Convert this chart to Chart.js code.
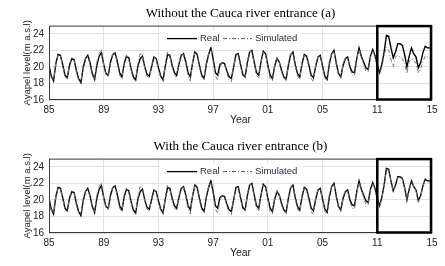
<!DOCTYPE html>
<html>
<head>
<meta charset="utf-8">
<script src="https://cdn.jsdelivr.net/npm/chart.js@4.4.1/dist/chart.umd.min.js"></script>
<style>
  html, body { margin: 0; padding: 0; background: #fff; }
  canvas { display: block; }
</style>
</head>
<body>
<canvas id="c1" width="445" height="133"></canvas>
<canvas id="c2" width="445" height="133"></canvas>
<script>
// ---------------- DATA ----------------
const tickLabels = ['85', '89', '93', '97', '01', '05', '11', '15'];
const yTickValues = [16, 18, 20, 22, 24];
const samplesPerUnit = 6; // readings per axis unit (one seasonal cycle)
const highlightFrom = '11', highlightTo = '15';

const realLevels = [
  20.2, 18.9, 18.3, 20.4, 21.5, 21.4,
  20.3, 19.0, 18.7, 20.2, 21.0, 20.9,
  19.6, 18.6, 18.1, 19.9, 21.0, 21.4,
  20.5, 19.2, 18.5, 20.2, 21.3, 21.7,
  20.3, 19.2, 19.0, 20.6, 21.5, 21.7,
  20.6, 19.3, 18.8, 20.4, 21.3, 21.1,
  19.8, 18.8, 18.4, 20.1, 21.0, 21.3,
  20.0, 19.1, 18.9, 20.0, 21.2, 21.0,
  19.9, 18.9, 18.4, 20.1, 21.5, 21.4,
  20.2, 19.3, 19.0, 20.3, 21.4, 21.6,
  20.6, 19.3, 18.8, 20.5, 21.8, 21.5,
  20.2, 19.0, 18.6, 20.3, 21.5, 22.3,
  21.0, 19.3, 19.0, 20.3, 20.5, 20.4,
  19.5, 18.8, 18.6, 20.0, 21.5, 21.6,
  20.3, 19.1, 18.8, 20.5, 21.8, 22.0,
  20.6, 19.3, 19.0, 20.6, 21.9, 21.6,
  20.2, 19.0, 18.6, 20.1, 21.0, 20.6,
  19.6, 18.8, 18.5, 20.2, 21.5, 21.8,
  20.3, 19.2, 18.8, 20.4, 21.5, 21.3,
  20.2, 19.0, 18.7, 20.1, 21.2, 21.4,
  20.1, 18.9, 18.5, 20.4, 21.6, 22.0,
  20.5, 19.2, 18.8, 20.2, 21.0, 21.2,
  20.0, 19.4, 19.3, 21.0, 22.3, 21.3,
  20.6, 19.9, 19.7, 21.3, 22.1, 21.4,
  20.2, 19.3, 20.3, 21.8, 23.8, 23.7,
  22.3, 21.1, 21.8, 22.8, 22.8, 22.6,
  21.5, 20.0, 21.3, 22.3, 21.6, 21.2,
  19.9, 20.5, 21.7, 22.5, 22.3, 22.3,
  22.1
];

const simWithoutCauca = [
  20.0, 18.7, 18.4, 20.6, 21.4, 21.3,
  20.1, 18.8, 18.6, 20.4, 21.1, 20.8,
  19.4, 18.4, 18.2, 20.1, 21.1, 21.3,
  20.3, 19.0, 18.6, 20.6, 21.6, 22.1,
  20.1, 19.0, 18.8, 20.8, 21.6, 21.6,
  20.3, 19.0, 18.6, 20.6, 21.4, 21.0,
  19.6, 18.6, 18.3, 20.4, 21.7, 21.2,
  19.8, 18.9, 18.6, 20.2, 21.3, 20.9,
  19.7, 18.7, 18.3, 20.3, 21.8, 21.3,
  20.0, 19.0, 18.8, 20.5, 21.5, 21.5,
  20.4, 18.9, 18.3, 20.6, 21.7, 21.4,
  20.0, 18.8, 18.5, 20.5, 21.6, 22.1,
  20.7, 18.9, 18.4, 20.0, 20.6, 20.3,
  19.3, 18.4, 18.2, 20.1, 21.4, 21.5,
  20.1, 18.9, 18.7, 20.7, 21.9, 21.8,
  20.4, 19.0, 18.7, 20.7, 21.8, 21.5,
  20.0, 18.6, 18.3, 20.3, 21.2, 20.5,
  19.4, 18.6, 18.4, 20.4, 21.6, 21.7,
  20.1, 18.9, 18.5, 20.6, 21.4, 21.2,
  20.0, 18.6, 18.2, 20.3, 21.3, 21.3,
  19.9, 18.6, 18.4, 20.6, 21.7, 21.9,
  20.3, 18.9, 18.6, 20.4, 21.1, 21.1,
  19.8, 19.0, 18.9, 21.0, 22.1, 21.2,
  20.3, 19.5, 19.4, 21.2, 21.9, 21.3,
  20.0, 19.2, 20.0, 21.4, 22.4, 22.0,
  20.9, 20.0, 21.2, 21.4, 21.2, 21.0,
  20.3, 19.2, 20.6, 21.0, 20.7, 20.5,
  19.3, 19.8, 20.6, 21.3, 21.2, 21.0,
  20.8
];

// with the Cauca entrance: identical to (a) before '11', these values afterwards
const simWithCaucaTail = [
  20.1, 19.1, 20.2, 21.7, 23.7, 23.6,
  22.2, 21.0, 21.7, 22.7, 22.9, 22.5,
  21.4, 19.9, 21.2, 22.2, 21.7, 21.1,
  19.8, 20.4, 21.6, 22.4, 22.2, 22.2,
  22.0
];

const titles = ['Without the Cauca river entrance (a)', 'With the Cauca river entrance (b)'];
const seriesNames = ['Real', 'Simulated'];
const yAxisTitle = 'Ayapel level(m a.s.l)';
const xAxisTitle = 'Year';

// ---------------- BUILD ----------------
const unitsPerTick = 4;
const xMax = (tickLabels.length - 1) * unitsPerTick;
const toPoints = arr => arr.map((v, i) => ({ x: i / samplesPerUnit, y: v }));
const startTail = tickLabels.indexOf(highlightFrom) * unitsPerTick * samplesPerUnit;
const simWithCauca = simWithoutCauca.slice(0, startTail).concat(simWithCaucaTail);

const SANS = "'Liberation Sans', Arial, sans-serif";
const SERIF = "'Liberation Serif', 'Times New Roman', serif";
const SIM_DASH = [4, 2, 1, 2];

const overlayPlugin = {
  id: 'overlay',
  afterDatasetsDraw(chart) {
    const { ctx, chartArea: a, scales: { x } } = chart;
    ctx.save();
    // axes box
    ctx.strokeStyle = '#3a3a3a';
    ctx.lineWidth = 1;
    ctx.strokeRect(a.left + 0.5, a.top + 0.5, a.right - a.left - 1, a.bottom - a.top - 1);
    // highlight box
    const x0 = x.getPixelForValue(tickLabels.indexOf(highlightFrom) * unitsPerTick);
    const x1 = x.getPixelForValue(tickLabels.indexOf(highlightTo) * unitsPerTick);
    ctx.strokeStyle = '#000';
    ctx.lineWidth = 2.5;
    ctx.strokeRect(x0, a.top + 0.5, x1 - x0 - 1, a.bottom - a.top - 1);
    // legend
    const lx = a.left + 111, ly = a.top + 13;
    ctx.fillStyle = '#fff';
    ctx.fillRect(lx, ly - 8, 142, 16);
    ctx.font = '9.5px ' + SANS;
    ctx.textBaseline = 'middle';
    ctx.lineWidth = 1.3;
    ctx.strokeStyle = '#000';
    ctx.setLineDash([]);
    ctx.beginPath(); ctx.moveTo(lx + 7, ly); ctx.lineTo(lx + 37, ly); ctx.stroke();
    ctx.fillStyle = '#2a2a40';
    ctx.fillText(seriesNames[0], lx + 40, ly);
    ctx.strokeStyle = '#555';
    ctx.lineWidth = 1;
    ctx.setLineDash(SIM_DASH);
    ctx.beginPath(); ctx.moveTo(lx + 63, ly); ctx.lineTo(lx + 92, ly); ctx.stroke();
    ctx.setLineDash([]);
    ctx.fillText(seriesNames[1], lx + 95, ly);
    ctx.restore();
  }
};

function makeChart(id, title, sim) {
  return new Chart(document.getElementById(id), {
    type: 'line',
    data: {
      datasets: [
        { label: seriesNames[1], data: toPoints(sim), borderColor: '#7a7a7a', borderWidth: 1,
          borderDash: SIM_DASH, pointRadius: 0, tension: 0 },
        { label: seriesNames[0], data: toPoints(realLevels), borderColor: '#000', borderWidth: 1.4,
          pointRadius: 0, tension: 0 }
      ]
    },
    options: {
      responsive: false,
      animation: false,
      devicePixelRatio: 1,
      layout: { padding: { left: 0, right: 13, top: 0, bottom: 0 } },
      plugins: {
        legend: { display: false },
        tooltip: { enabled: false },
        title: { display: true, fullSize: false, text: title, color: '#000',
          font: { family: SERIF, size: 13, weight: 'normal', lineHeight: 1.2 },
          padding: { top: 6, bottom: 4 } }
      },
      scales: {
        x: {
          type: 'linear', min: 0, max: xMax,
          afterBuildTicks: s => { s.ticks = tickLabels.map((_, i) => ({ value: i * unitsPerTick })); },
          afterFit: s => { s.height = 33; },
          ticks: { callback: v => tickLabels[Math.round(v / unitsPerTick)], color: '#222',
            font: { family: SANS, size: 10 }, padding: 4, maxRotation: 0 },
          grid: { color: '#e2e2e2', drawTicks: false },
          border: { display: false },
          title: { display: true, text: xAxisTitle, color: '#222',
            font: { family: SANS, size: 10.5 }, padding: { top: 0, bottom: 7 } }
        },
        y: {
          min: 16, max: 25,
          afterBuildTicks: s => { s.ticks = yTickValues.map(v => ({ value: v })); },
          afterFit: s => { s.width = 49; },
          ticks: { color: '#222', font: { family: SANS, size: 10 }, padding: 5 },
          grid: { color: '#e2e2e2', drawTicks: false },
          border: { display: false },
          title: { display: true, text: yAxisTitle, color: '#222',
            font: { family: SANS, size: 9.5 }, padding: { top: 22, bottom: 0 } }
        }
      }
    },
    plugins: [overlayPlugin]
  });
}

makeChart('c1', titles[0], simWithoutCauca);
makeChart('c2', titles[1], simWithCauca);
</script>
</body>
</html>
